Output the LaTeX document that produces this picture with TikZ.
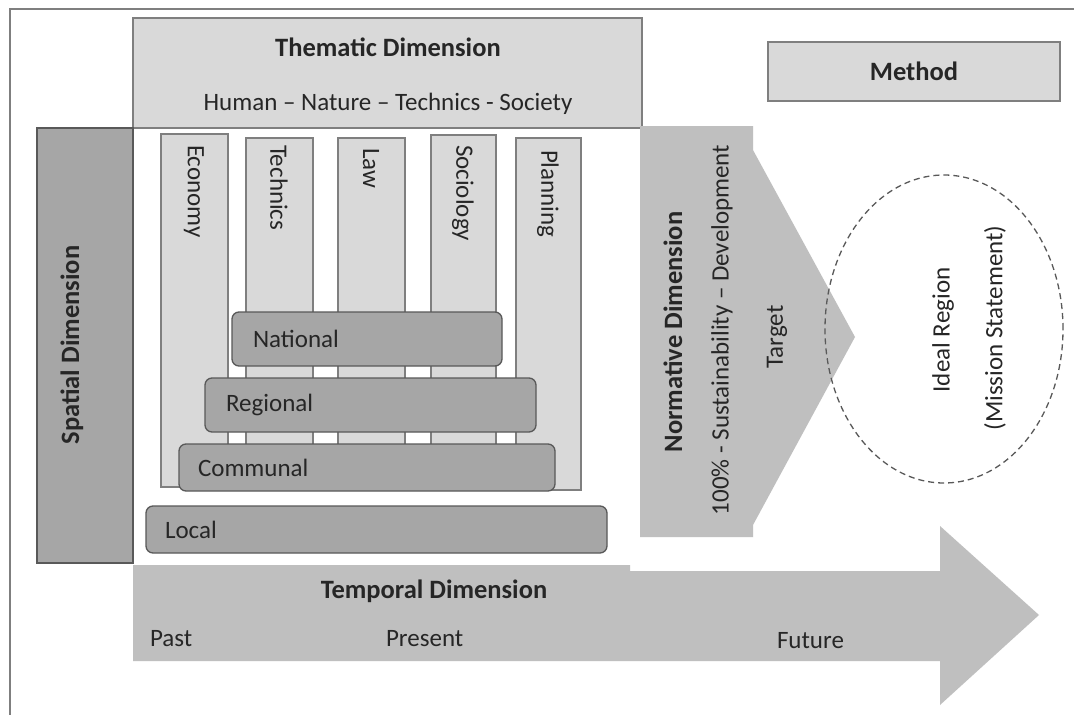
\documentclass[tikz,border=0pt]{standalone}
\usepackage{fontspec}
\setmainfont{Carlito}
\usetikzlibrary{shapes.geometric}
\definecolor{lightg}{HTML}{D9D9D9}
\definecolor{midg}{HTML}{A6A6A6}
\definecolor{arrg}{HTML}{BFBFBF}
\definecolor{edgeg}{HTML}{7F7F7F}
\definecolor{darkedge}{HTML}{595959}
\definecolor{txt}{HTML}{262626}
\begin{document}
\begin{tikzpicture}[x=1pt,y=-1pt,
  every node/.style={inner sep=0pt, outer sep=0pt, text=txt},
  rect/.style={anchor=north west, draw=edgeg, line width=1.3pt, fill=lightg},
  colbox/.style={anchor=north west, draw=edgeg, line width=1.2pt, fill=lightg, minimum width=67pt},
  lvl/.style={anchor=north west, draw=darkedge, line width=1.3pt, fill=midg, rounded corners=7pt},
  reg/.style={font=\fontsize{25}{30}\selectfont},
  bld/.style={font=\fontsize{26.5}{32}\selectfont\bfseries},
  coltxt/.style={reg, rotate=-90, anchor=west}
]
\useasboundingbox (0,0) rectangle (1074,715);
\fill[white] (0,0) rectangle (1074,715);
% outer frame
\draw[edgeg, line width=1.8pt] (10,730) -- (10,9) -- (1090,9);

% thematic dimension
\node[rect, minimum width=509pt, minimum height=110pt] (them) at (133,18) {};
\node[bld] (themt) at (388,47) {Thematic Dimension};
\node[reg] (thems) at (388,104) {Human – Nature – Technics - Society};

% method
\node[rect, minimum width=292pt, minimum height=59pt] (meth) at (768,42) {};
\node[bld] (metht) at (meth.center) {Method};

% spatial dimension
\node[anchor=north west, draw=darkedge, line width=1.3pt, fill=midg, minimum width=96pt, minimum height=435pt] (spat) at (37,128) {};
\node[bld, rotate=90] (spatt) at (72,345) {Spatial Dimension};

% thematic columns
\node[colbox, minimum height=353pt] (eco) at (161,134) {};
\node[colbox, minimum height=350pt] (tec) at (246,138) {};
\node[colbox, minimum height=350pt] (law) at (338,138) {};
\node[colbox, minimum width=65pt, minimum height=353pt] (soc) at (431,135) {};
\node[colbox, minimum width=65pt, minimum height=352pt] (pla) at (516,138) {};
\node[coltxt] (ecot) at (194,145) {Economy};
\node[coltxt] (tect) at (279,145) {Technics};
\node[coltxt] (lawt) at (371,148) {Law};
\node[coltxt] (soct) at (463,145) {Sociology};
\node[coltxt] (plat) at (548,150) {Planning};

% spatial levels
\node[lvl, minimum width=270pt, minimum height=54pt] (nat) at (232,312) {};
\node[reg, anchor=west] (natt) at ([xshift=21pt]nat.west) {National};
\node[lvl, minimum width=331pt, minimum height=54pt] (regl) at (205,378) {};
\node[reg, anchor=west] (reglt) at ([xshift=21pt]regl.west) {Regional};
\node[lvl, minimum width=376pt, minimum height=47pt] (com) at (179,444) {};
\node[reg, anchor=west] (comt) at ([xshift=19pt]com.west) {Communal};
\node[lvl, minimum width=461pt, minimum height=47pt] (loc) at (146,506) {};
\node[reg, anchor=west] (loct) at ([xshift=19pt]loc.west) {Local};

% normative dimension arrow
\fill[arrg] (640,126) -- (753,126) -- (753,150) -- (855,337) -- (753,525) -- (753,537) -- (640,537) -- cycle;
\node[bld, rotate=90] (normt) at (673,332) {Normative Dimension};
\node[reg, rotate=90] (norms) at (722,330) {100\% - Sustainability – Development};
\node[reg, rotate=90] (targ) at (777,337) {Target};

% ideal region
\node[draw=darkedge, dash pattern=on 6pt off 4pt, line width=1.3pt, ellipse, minimum width=238pt, minimum height=308pt] (ideal) at (944,329) {};
\node[reg, rotate=90] (idealt) at (943,330) {Ideal Region};
\node[reg, rotate=90] (miss) at (995,328) {(Mission Statement)};

% temporal dimension arrow
\fill[arrg] (133,565) -- (630,565) -- (630,571) -- (940,571) -- (940,526) -- (1039,615) -- (940,705) -- (940,661) -- (133,661) -- cycle;
\node[bld] (tempt) at (434,591) {Temporal Dimension};
\node[reg, anchor=west] (past) at (150,639) {Past};
\node[reg, anchor=west] (pres) at (386,639) {Present};
\node[reg, anchor=west] (fut) at (777,641) {Future};
\end{tikzpicture}
\end{document}
